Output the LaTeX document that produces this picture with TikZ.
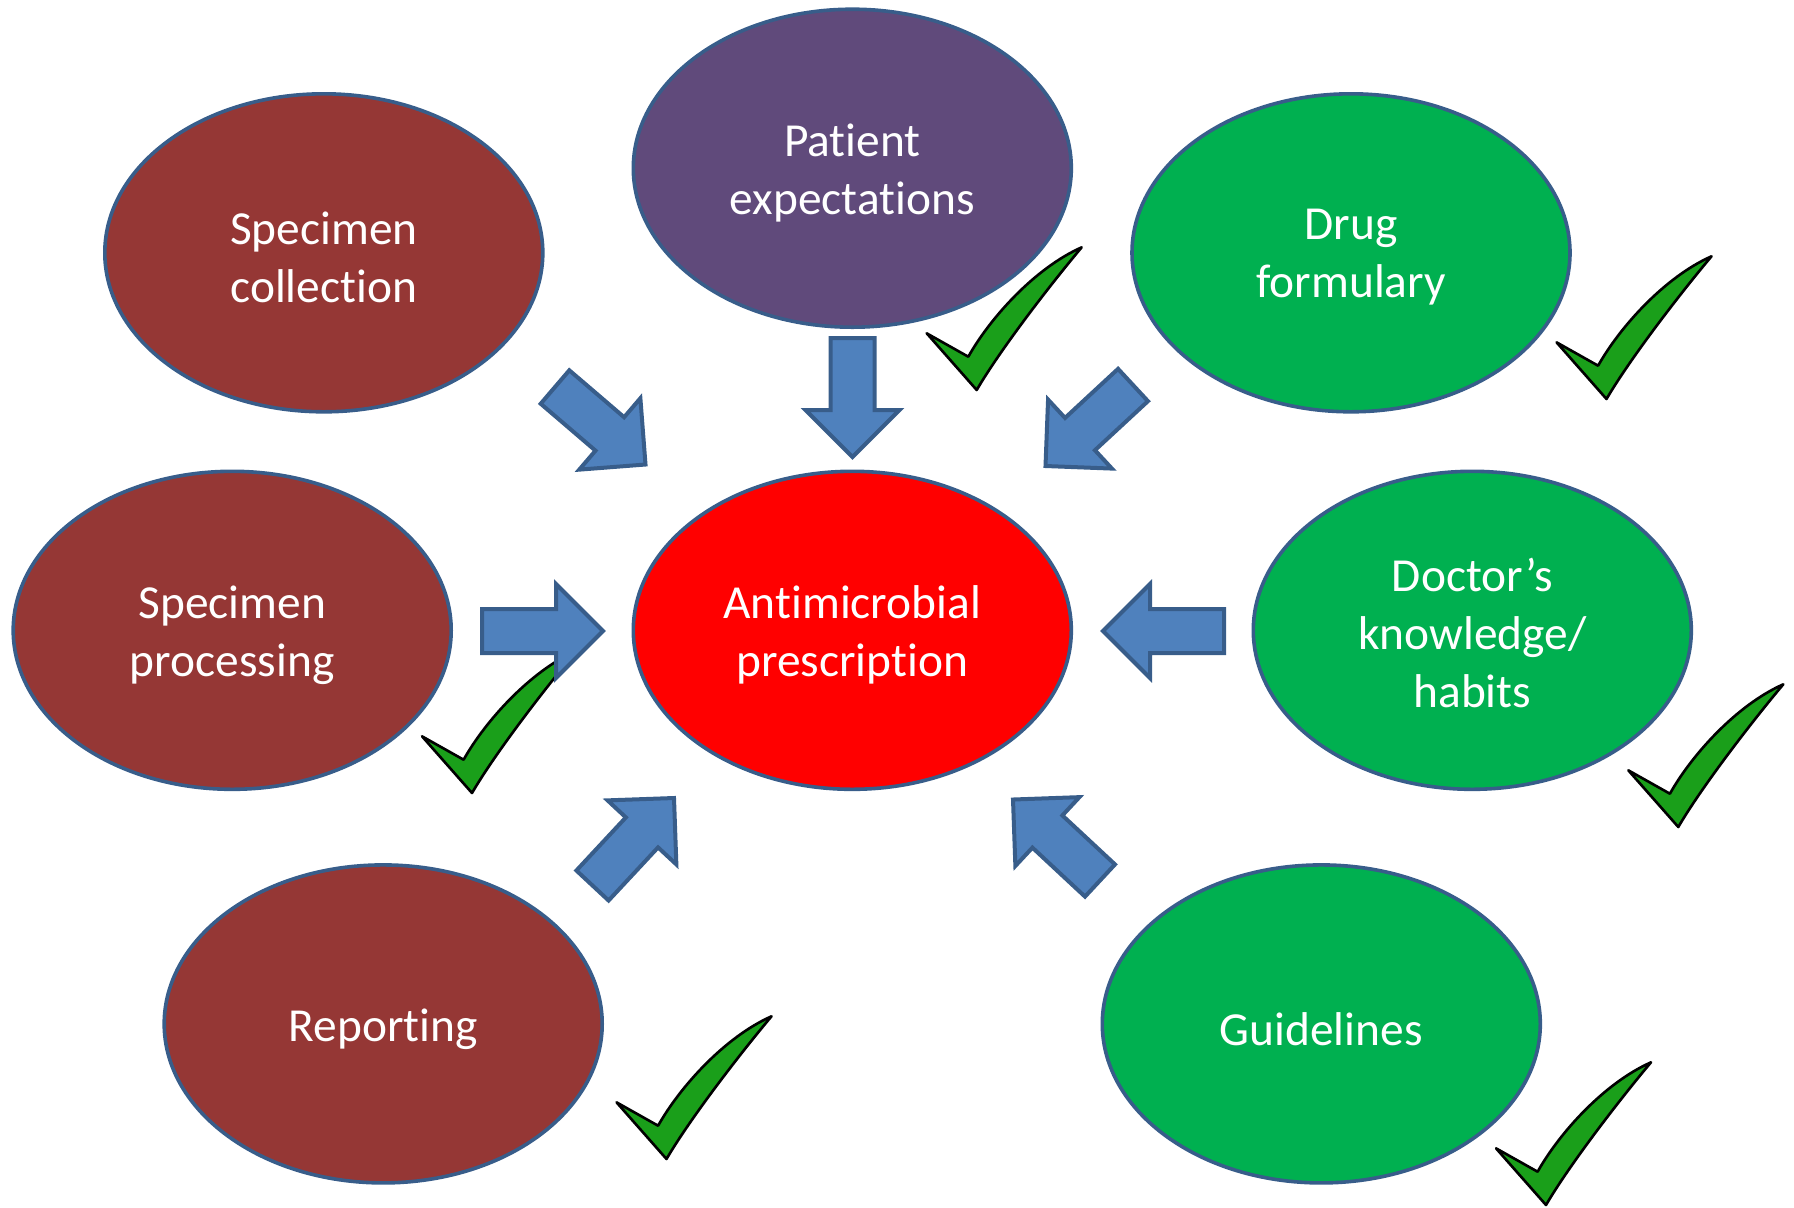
\documentclass[tikz,border=0pt]{standalone}
\usepackage{fontspec}
\setmainfont{Carlito}[RawFeature=-liga]
\usetikzlibrary{shapes.geometric,calc}
\definecolor{brownc}{HTML}{953735}
\definecolor{purplec}{HTML}{604A7B}
\definecolor{greenc}{HTML}{00B050}
\definecolor{redc}{HTML}{FF0000}
\definecolor{arrfill}{HTML}{4F81BD}
\definecolor{arredge}{HTML}{385D8A}
\definecolor{checkc}{HTML}{1A9F1A}
\newcommand\blockarrow[2]{%
 \coordinate (H) at ($(#2)!23.5pt!(#1)$);
 \draw[barrowstyle] (#2) -- ($(H)!23.5pt!90:(#2)$) -- ($(H)!11pt!90:(#2)$)
   -- ($(#1)!11pt!90:(H)$) -- ($(#1)!11pt!-90:(H)$) -- ($(H)!11pt!-90:(#2)$)
   -- ($(H)!23.5pt!-90:(#2)$) -- cycle;}
\tikzset{
  ell/.style={ellipse, draw=arredge, line width=1.8pt, minimum width=219pt,
    minimum height=159pt, inner sep=0pt},
  lbl/.style={text=white, align=center, inner sep=0pt,
    font=\fontsize{23.7pt}{29pt}\selectfont},
  barrowstyle/.style={fill=arrfill, draw=arredge, line width=2pt, line join=miter},
  checkstyle/.style={fill=checkc, draw=black, line width=1.3pt, line join=round},
  tick/.pic={\draw[checkstyle] (0,0) -- (-50,-56.7) -- (-8.4,-33.3)
     .. controls (13.3,-72) and (58.3,-122) .. (105,-142.7)
     .. controls (73.3,-105) and (23.3,-40) .. (0,0) -- cycle;}
}
\begin{document}
\begin{tikzpicture}[x=0.5pt, y=-0.5pt]
\useasboundingbox (0,0) rectangle (1794,1207);
% ellipses
\node[ell, fill=brownc]  (coll) at (323.8,252.8) {};
\node[ell, fill=purplec] (pat)  at (852.3,168.2) {};
\node[ell, fill=greenc]  (drug) at (1351,252.8) {};
\node[ell, fill=brownc]  (proc) at (232.2,630.3) {};
\node[ell, fill=redc]    (anti) at (852.3,630.3) {};
\node[ell, fill=greenc]  (doc)  at (1472.3,630.3) {};
\node[ell, fill=brownc]  (rep)  at (383.2,1023.9) {};
\node[ell, fill=greenc]  (guid) at (1321.3,1023.9) {};
% labels
\node[lbl] (coll-t) at ([yshift=-2.3pt]coll.center) {Specimen\\collection};
\node[lbl] (pat-t)  at ([yshift=-2.3pt]pat.center)  {Patient\\expectations};
\node[lbl] (drug-t) at ([yshift=-2.3pt]drug.center) {Drug\\formulary};
\node[lbl] (proc-t) at ([yshift=-2.3pt]proc.center) {Specimen\\processing};
\node[lbl] (anti-t) at ([yshift=-2.3pt]anti.center) {Antimicrobial\\prescription};
\node[lbl] (doc-t)  at ([yshift=-1.5pt]doc.center)  {Doctor’s\\knowledge/\\habits};
\node[lbl] (rep-t)  at ([yshift=-2.5pt]rep.center)  {Reporting};
\node[lbl] (guid-t) at ([yshift=-2.5pt]guid.center) {Guidelines};
% check marks
\pic at (976.7,390) {tick};
\pic at (1606.5,399) {tick};
\pic at (472,793) {tick};
\pic at (1678.3,827) {tick};
\pic at (666.5,1159) {tick};
\pic at (1546,1205) {tick};
% arrow end points
\coordinate (dn-b) at (852.5,338);  \coordinate (dn-t) at (852.5,457);
\coordinate (rt-b) at (482,631);    \coordinate (rt-t) at (603,631);
\coordinate (lf-b) at (1224,631);   \coordinate (lf-t) at (1103,631);
\coordinate (tl-b) at (555,387);    \coordinate (tl-t) at (645.5,464.5);
\coordinate (tr-b) at (1133,385);   \coordinate (tr-t) at (1045.5,466);
\coordinate (bl-b) at (592.5,885.5); \coordinate (bl-t) at (674,798);
\coordinate (br-b) at (1100,880.5); \coordinate (br-t) at (1013,799.5);
\blockarrow{dn-b}{dn-t}
\blockarrow{rt-b}{rt-t}
\blockarrow{lf-b}{lf-t}
\blockarrow{tl-b}{tl-t}
\blockarrow{tr-b}{tr-t}
\blockarrow{bl-b}{bl-t}
\blockarrow{br-b}{br-t}
\end{tikzpicture}
\end{document}
